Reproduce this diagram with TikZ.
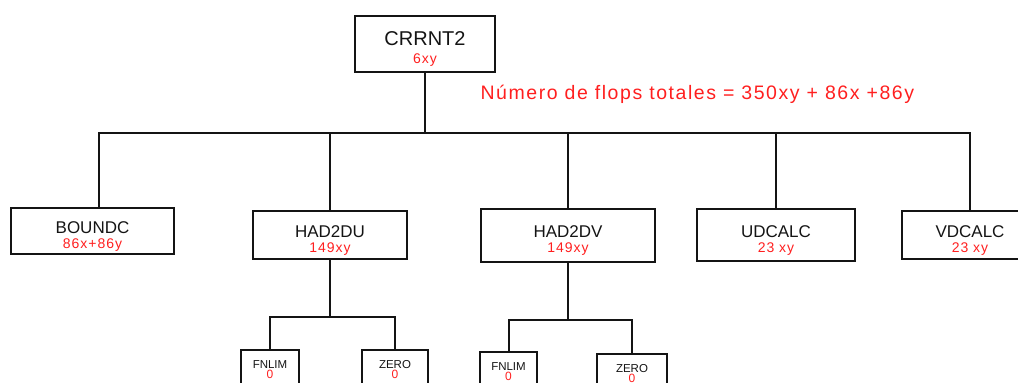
\documentclass[tikz,border=0pt]{standalone}
\usepackage{fontspec}
\setmainfont{Liberation Sans}
\newfontfamily\flopfont[LetterSpace=7]{Liberation Sans}
\newfontfamily\totfont[LetterSpace=8]{Liberation Sans}
\usetikzlibrary{positioning}
\definecolor{Flop}{HTML}{FF1F1F}
\definecolor{Ink}{HTML}{141414}
\newcommand{\flop}[2]{{\fontsize{#1}{#1}\flopfont\color{Flop}#2}}

\begin{document}
\begin{tikzpicture}[
    x=1pt,y=-1pt,
    box/.style={draw=Ink,line width=2pt,minimum height=48pt,inner sep=0pt,align=center,
                text height=37pt,font=\fontsize{17}{15}\selectfont,text=Ink},
    leaf/.style={draw=Ink,line width=2pt,minimum height=40pt,inner sep=0pt,align=center,
                 font=\fontsize{11.5}{10}\selectfont,text=Ink},
    link/.style={draw=Ink,line width=2pt}
  ]
    \useasboundingbox (0,0) rectangle (1018,383);
    \clip (0,0) rectangle (1018,383);
    \node[box,minimum width=140pt,minimum height=56pt,text height=42pt,
          font=\fontsize{20}{18}\selectfont] (c) at (425,44) {CRRNT2\\\flop{14}{6xy}};
    \node[anchor=west,text=Flop,font=\fontsize{19.5}{20}\totfont] (tot) at (477,94)
        {Número de flops totales = 350xy + 86x +86y};
    \node[box,minimum width=163pt,minimum height=46pt] (b) at (92.5,231) {BOUNDC\\\flop{14}{86x+86y}};
    \node[box,minimum width=154pt,right=77pt of b,yshift=-4pt] (hu) {HAD2DU\\\flop{14}{149xy}};
    \node[box,minimum width=174pt,minimum height=53pt,right=72pt of hu] (hv) {HAD2DV\\\flop{14}{149xy}};
    \node[box,minimum width=158pt,minimum height=52pt,right=40pt of hv] (ud) {UDCALC\\\flop{14}{23 xy}};
    \node[box,minimum width=136pt,right=45pt of ud] (vd) {VDCALC\\\flop{14}{23 xy}};
    \node[leaf,minimum width=58pt,below=89pt of hu,xshift=-60pt] (hufn) {FNLIM\\\flop{12}{0}};
    \node[leaf,minimum width=66pt,right=61pt of hufn] (huze) {ZERO\\\flop{12}{0}};
    \node[leaf,minimum width=57pt,below=88pt of hv,xshift=-59.5pt] (hvfn) {FNLIM\\\flop{12}{0}};
    \node[leaf,minimum width=70pt,right=58pt of hvfn,yshift=-2pt] (hvze) {ZERO\\\flop{12}{0}};
    % main bus
    \draw[link] (c.south) -- ++(0,60) coordinate (bus);
    \draw[link] ([xshift=6pt]b.north) |- (bus) -| (vd.north);
    \foreach \n in {hu,hv,ud} \draw[link] (\n.north) -- (\n.north |- bus);
    % sub-trees
    \draw[link] (hu.south) -- ++(0,57) coordinate (hub);
    \draw[link] (hufn.north) |- (hub) -| (huze.north);
    \draw[link] (hv.south) -- ++(0,57) coordinate (hvb);
    \draw[link] (hvfn.north) |- (hvb) -| (hvze.north);
  \end{tikzpicture}
\end{document}
